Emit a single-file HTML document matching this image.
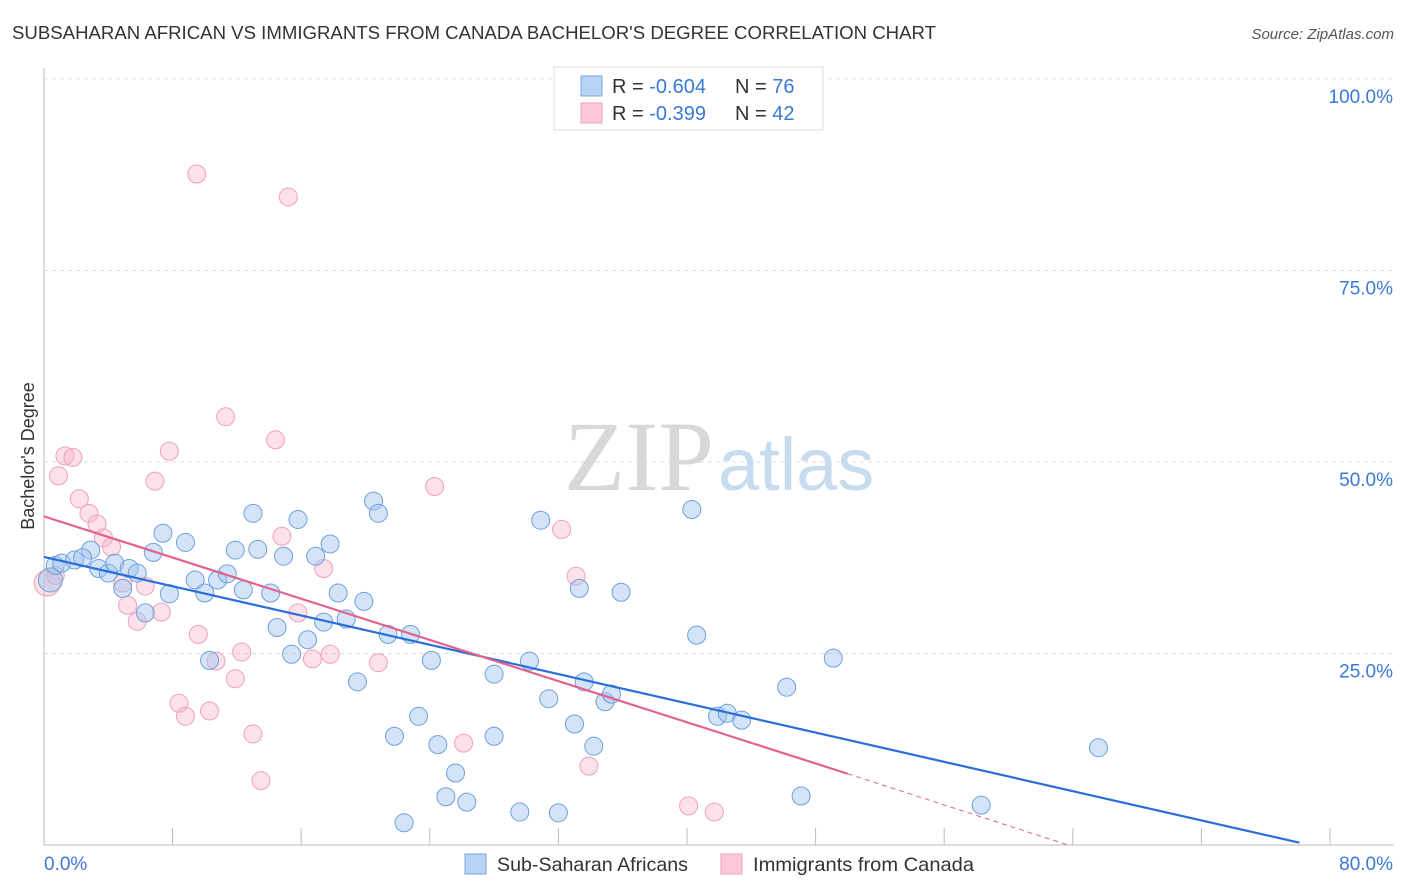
<!DOCTYPE html>
<html><head><meta charset="utf-8"><style>
body{margin:0;background:#fff;font-family:"Liberation Sans",sans-serif;}
svg{display:block}
</style></head><body>
<svg id="chart" width="1406" height="892" xmlns="http://www.w3.org/2000/svg">
<text x="12" y="39" font-size="18" fill="#333" textLength="924" lengthAdjust="spacingAndGlyphs">SUBSAHARAN AFRICAN VS IMMIGRANTS FROM CANADA BACHELOR'S DEGREE CORRELATION CHART</text>
<text x="1394" y="39" font-size="15" fill="#555" font-style="italic" text-anchor="end">Source: ZipAtlas.com</text>
<g id="grid"></g>
<text x="714" y="490" font-size="100" font-family="Liberation Serif,serif" fill="#d8d8d8" text-anchor="end">ZIP</text>
<text x="718" y="490" font-size="74" fill="#c8dcf0">atlas</text>
<line x1="44" y1="68" x2="44" y2="845" stroke="#bbb"/>
<line x1="44" y1="845" x2="1394" y2="845" stroke="#bbb"/>
<g id="xticks"></g>
<g id="ylabels"></g>
<text x="44" y="870" font-size="19" fill="#3a78d8">0.0%</text>
<text x="1393" y="870" font-size="19" fill="#3a78d8" text-anchor="end">80.0%</text>
<text transform="translate(34,456) rotate(-90)" font-size="18" fill="#333" text-anchor="middle">Bachelor's Degree</text>
<g id="pts"></g>
<g id="lines"></g>
<g>
<rect x="554" y="67" width="269" height="63" fill="#fff" stroke="#ddd"/>
<rect x="581" y="76" width="21" height="20" fill="#b8d2f4" stroke="#7aa7e0"/>
<rect x="581" y="103" width="21" height="20" fill="#fcc8d8" stroke="#f0a0b8"/>
<text x="612" y="93" font-size="20" fill="#333">R = <tspan fill="#3a78d8">-0.604</tspan></text>
<text x="735" y="93" font-size="20" fill="#333">N = <tspan fill="#3a78d8">76</tspan></text>
<text x="612" y="120" font-size="20" fill="#333">R = <tspan fill="#3a78d8"> -0.399</tspan></text>
<text x="735" y="120" font-size="20" fill="#333">N = <tspan fill="#3a78d8">42</tspan></text>
</g>
<g>
<rect x="465" y="854" width="21" height="20" fill="#b8d2f4" stroke="#7aa7e0"/>
<text x="497" y="871" font-size="19.5" fill="#333" textLength="191" lengthAdjust="spacingAndGlyphs">Sub-Saharan Africans</text>
<rect x="721" y="854" width="21" height="20" fill="#fcc8d8" stroke="#f0a0b8"/>
<text x="753" y="871" font-size="19.5" fill="#333" textLength="221" lengthAdjust="spacingAndGlyphs">Immigrants from Canada</text>
</g>
</svg>
<script>
const yTicks=[25,50,75,100];
const yTickLabels=["25.0%","50.0%","75.0%","100.0%"];
const blueX=[0.4,0.7,1.1,1.9,2.9,2.4,3.4,4.0,4.4,4.9,5.3,5.8,6.3,6.8,7.4,7.8,8.8,9.4,10.0,10.3,10.8,11.4,11.9,12.4,13.0,13.3,14.1,14.5,14.9,15.4,15.8,16.4,16.9,17.4,17.8,18.3,18.8,19.5,19.9,20.5,20.8,21.4,21.8,22.4,22.8,23.3,24.1,24.5,25.6,25.0,26.3,28.0,28.0,29.6,30.2,30.9,31.4,32.0,33.0,33.3,33.6,34.2,34.9,35.3,35.9,40.3,40.6,41.9,42.5,43.4,46.2,47.1,49.1,58.3,65.6];
const blueY=[34.6,36.5,36.8,37.2,38.5,37.5,36.1,35.5,36.8,33.5,36.1,35.5,30.3,38.2,40.7,32.8,39.5,34.6,32.9,24.1,34.6,35.4,38.5,33.3,43.3,38.6,32.9,28.4,37.7,24.9,42.5,26.8,37.7,29.1,39.3,32.9,29.5,21.3,31.8,44.9,43.3,27.5,14.2,2.9,27.5,16.8,24.1,13.1,9.4,6.3,5.6,22.3,14.2,4.3,24.0,42.4,19.1,4.2,15.8,33.5,21.3,12.9,18.7,19.7,33.0,43.8,27.4,16.8,17.2,16.3,20.6,6.4,24.4,5.2,12.7];
const pinkX=[0.2,0.7,0.9,1.3,1.8,2.2,2.8,3.3,3.7,4.2,4.9,5.2,5.8,6.3,7.3,7.8,6.9,8.4,8.8,9.5,9.6,10.3,10.7,11.3,11.9,12.3,13.0,13.5,14.4,14.8,15.2,15.8,16.7,17.4,17.8,20.8,24.3,26.1,32.2,33.1,33.9,40.1,41.7];
const pinkY=[34.2,35.2,48.2,50.8,50.6,45.2,43.3,41.9,40.1,38.9,34.2,31.3,29.2,33.8,30.4,51.4,47.5,18.5,16.8,87.6,27.5,17.5,24.0,55.9,21.7,25.2,14.5,8.4,52.9,40.3,84.6,30.3,24.3,36.1,24.9,23.8,46.8,13.3,41.2,35.1,10.3,5.1,4.3];
const blueLine=[[0,37.6],[78.1,0.3]];
const pinkLine=[[0,42.9],[50.0,9.3]];
const pinkDash=[[50.0,9.3],[63.7,0]];
const xs=v=>44+v*1286/80;
const ys=v=>845-v*7.66;
const NS="http://www.w3.org/2000/svg";
function mk(tag,attrs,parent){const e=document.createElementNS(NS,tag);for(const k in attrs)e.setAttribute(k,attrs[k]);document.getElementById(parent).appendChild(e);return e;}
yTicks.forEach((t,i)=>{
 const l=mk('line',{x1:44,x2:1394,y1:ys(t),y2:ys(t),stroke:'#ddd','stroke-dasharray':'4,4'},'grid');
 
 
 const tx=mk('text',{x:1393,y:ys(t)+24,'font-size':19,fill:'#3a78d8','text-anchor':'end'},'ylabels');
 tx.textContent=yTickLabels[i];
 
 
});
for(let i=1;i<=10;i++){
 const t=mk('line',{x1:xs(i*8),x2:xs(i*8),y1:828,y2:845,stroke:'#bbb'},'xticks');
 
 
}
pinkX.forEach((x,i)=>{
 const c=mk('circle',{cx:xs(x),cy:ys(pinkY[i]),r:i==0?13:9,fill:'rgba(248,180,200,0.4)',stroke:'#f0a0b8','stroke-width':1},'pts');
 
 
});
blueX.forEach((x,i)=>{
 const c=mk('circle',{cx:xs(x),cy:ys(blueY[i]),r:i==0?12:9,fill:'rgba(160,196,240,0.45)',stroke:'#6f9fdc','stroke-width':1},'pts');
 
 
});
const bl=mk('line',{x1:xs(blueLine[0][0]),y1:ys(blueLine[0][1]),x2:xs(blueLine[1][0]),y2:ys(blueLine[1][1]),stroke:'#2a6fd8','stroke-width':2.2},'lines');


const pl=mk('line',{x1:xs(pinkLine[0][0]),y1:ys(pinkLine[0][1]),x2:xs(pinkLine[1][0]),y2:ys(pinkLine[1][1]),stroke:'#e4628e','stroke-width':2.2},'lines');


const pd=mk('line',{x1:xs(pinkDash[0][0]),y1:ys(pinkDash[0][1]),x2:xs(pinkDash[1][0]),y2:ys(pinkDash[1][1]),stroke:'#e4628e','stroke-width':1,'stroke-dasharray':'5,4'},'lines');


</script>
</body></html>
